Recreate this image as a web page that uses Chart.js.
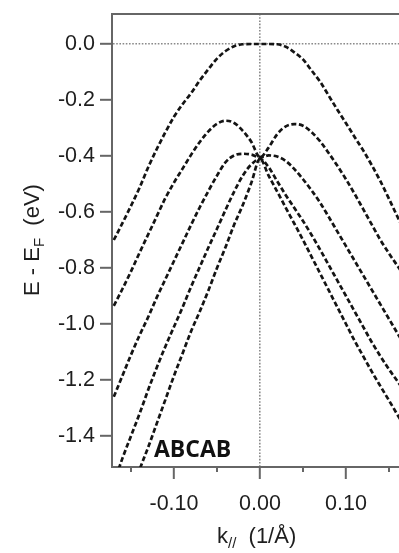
<!DOCTYPE html>
<html>
<head>
<meta charset="utf-8">
<script src="https://cdn.jsdelivr.net/npm/chart.js@4/dist/chart.umd.min.js"></script>
<style>
html,body{margin:0;padding:0;background:#fff;overflow:hidden}
#wrap{position:relative;width:399px;height:553px}
</style>
</head>
<body>
<div id="wrap"><canvas id="c" width="399" height="553"></canvas></div>
<script>
// momentum grid (1/Å)
const kGrid = [-0.17,-0.16,-0.15,-0.14,-0.13,-0.12,-0.11,-0.10,-0.09,-0.08,-0.07,-0.06,-0.05,-0.04,-0.03,-0.02,-0.01,0,
               0.01,0.02,0.03,0.04,0.05,0.06,0.07,0.08,0.09,0.10,0.11,0.12,0.13,0.14,0.15,0.16,0.17];
// band energies E - EF (eV)
const band1 = [-0.70,-0.64,-0.578,-0.513,-0.44,-0.375,-0.315,-0.26,-0.215,-0.175,-0.13,-0.09,-0.052,-0.025,-0.008,-0.001,0,0,
               0,-0.001,-0.01,-0.03,-0.055,-0.095,-0.135,-0.185,-0.235,-0.283,-0.332,-0.38,-0.433,-0.49,-0.553,-0.618,-0.683];
const band2 = [-0.935,-0.875,-0.812,-0.745,-0.68,-0.615,-0.55,-0.495,-0.445,-0.395,-0.35,-0.312,-0.285,-0.274,-0.282,-0.31,-0.35,-0.405,
               -0.37,-0.322,-0.294,-0.286,-0.292,-0.315,-0.348,-0.39,-0.435,-0.483,-0.535,-0.59,-0.645,-0.70,-0.748,-0.793,-0.838];
const band3 = [-1.26,-1.185,-1.11,-1.04,-0.975,-0.905,-0.84,-0.775,-0.71,-0.645,-0.583,-0.525,-0.47,-0.422,-0.398,-0.392,-0.395,-0.405,
               -0.398,-0.402,-0.418,-0.447,-0.483,-0.523,-0.567,-0.618,-0.67,-0.722,-0.774,-0.826,-0.878,-0.93,-0.982,-1.034,-1.086];
const band4 = [-1.57,-1.48,-1.40,-1.32,-1.235,-1.155,-1.08,-1.01,-0.94,-0.866,-0.796,-0.727,-0.66,-0.592,-0.527,-0.47,-0.43,-0.41,
               -0.44,-0.49,-0.54,-0.586,-0.632,-0.682,-0.735,-0.79,-0.845,-0.90,-0.955,-1.01,-1.065,-1.115,-1.162,-1.205,-1.25];
const band5 = [-1.77,-1.69,-1.61,-1.52,-1.44,-1.355,-1.27,-1.185,-1.105,-1.025,-0.955,-0.88,-0.80,-0.725,-0.645,-0.575,-0.495,-0.41,
               -0.47,-0.527,-0.585,-0.642,-0.70,-0.76,-0.82,-0.88,-0.94,-1.00,-1.06,-1.115,-1.17,-1.222,-1.273,-1.325,-1.375];
const bands = [band1, band2, band3, band4, band5];

const xTicks = [-0.15,-0.10,-0.05,0,0.05,0.10,0.15];
const xTickLabels = ['','-0.10','','0.00','','0.10',''];
const yTicks = [0,-0.2,-0.4,-0.6,-0.8,-1.0,-1.2,-1.4];
const yTickLabels = ['0.0','-0.2','-0.4','-0.6','-0.8','-1.0','-1.2','-1.4'];
const sampleLabel = 'ABCAB';

const AXIS = '#666666';
const TXT = '#1e1e1e';
const FONT = 'Liberation Sans';

const extras = {
  id: 'extras',
  afterDraw(chart) {
    const ctx = chart.ctx, a = chart.chartArea, xs = chart.scales.x;
    ctx.save();
    // top frame
    ctx.strokeStyle = AXIS; ctx.lineWidth = 2;
    ctx.beginPath(); ctx.moveTo(a.left - 1, a.top); ctx.lineTo(chart.width, a.top); ctx.stroke();
    // minor ticks
    xTicks.forEach((v, i) => {
      if (xTickLabels[i] !== '') return;
      const px = Math.round(xs.getPixelForValue(v));
      ctx.beginPath(); ctx.moveTo(px, a.bottom); ctx.lineTo(px, a.bottom + 5); ctx.stroke();
    });
    ctx.fillStyle = TXT;
    ctx.textBaseline = 'alphabetic'; ctx.textAlign = 'left';
    // x title: k_// (1/Å)
    const big = '22px "' + FONT + '"', small = '15px "' + FONT + '"';
    ctx.font = big; const wk = ctx.measureText('k').width;
    ctx.font = small; const ws = ctx.measureText('//').width;
    const x0 = 217, yb = 543;
    ctx.font = big; ctx.fillText('k', x0, yb);
    ctx.font = small; ctx.fillText('//', x0 + wk, yb + 5);
    ctx.font = big; ctx.fillText('  (1/Å)', x0 + wk + ws, yb);
    // y title: E - E_F (eV)
    ctx.font = big; const w1 = ctx.measureText('E - E').width; const w3 = ctx.measureText('  (eV)').width;
    ctx.font = small; const w2 = ctx.measureText('F').width;
    const tot = w1 + w2 + w3;
    ctx.translate(39, 240);
    ctx.rotate(-Math.PI / 2);
    const s = -tot / 2;
    ctx.font = big; ctx.fillText('E - E', s, 0);
    ctx.font = small; ctx.fillText('F', s + w1, 5);
    ctx.font = big; ctx.fillText('  (eV)', s + w1 + w2, 0);
    ctx.setTransform(1, 0, 0, 1, 0, 0);
    // sample label
    ctx.font = 'bold 23px "Open Sans"';
    ctx.fillStyle = '#111';
    ctx.fillText(sampleLabel, 154, 457);
    ctx.restore();
  }
};

new Chart(document.getElementById('c'), {
  type: 'line',
  data: {
    datasets: bands.map((b, j) => ({
      label: 'band ' + (j + 1),
      data: kGrid.map((k, i) => ({ x: k, y: b[i] })),
      borderColor: '#141414',
      borderWidth: 2.7,
      borderDash: [5, 2.6],
      pointRadius: 0,
      fill: false,
      cubicInterpolationMode: 'monotone'
    }))
  },
  options: {
    responsive: false,
    animation: false,
    devicePixelRatio: 1,
    layout: { padding: { top: 14, left: 0, right: 0, bottom: 0 } },
    plugins: { legend: { display: false }, tooltip: { enabled: false } },
    scales: {
      x: {
        type: 'linear',
        min: -0.17209, max: 0.16163,
        afterBuildTicks: s => { s.ticks = xTicks.map(v => ({ value: v })); },
        afterFit: s => { s.height = 86; s.paddingLeft = 0; s.paddingRight = 0; },
        ticks: {
          callback: (v, i) => xTickLabels[i],
          font: { family: FONT, size: 21.5, lineHeight: 1.1 },
          color: TXT, padding: 13, maxRotation: 0, autoSkip: false
        },
        grid: {
          drawOnChartArea: true,
          color: c => (c.tick && c.tick.value === 0) ? '#8a8a8a' : 'rgba(0,0,0,0)',
          lineWidth: 1.6,
          tickLength: 12,
          tickWidth: 2,
          tickColor: c => (c.index !== undefined && xTickLabels[c.index] !== '') ? AXIS : 'rgba(0,0,0,0)'
        },
        border: { display: true, color: AXIS, width: 2, dash: [1.6, 1.6] }
      },
      y: {
        type: 'linear',
        min: -1.5107, max: 0.10714,
        afterBuildTicks: s => { s.ticks = yTicks.map(v => ({ value: v })); },
        afterFit: s => { s.width = 112; s.paddingTop = 0; s.paddingBottom = 0; },
        ticks: {
          callback: (v, i) => yTickLabels[i],
          font: { family: FONT, size: 21.5, lineHeight: 1.1 },
          color: TXT, padding: 5, autoSkip: false
        },
        grid: {
          drawOnChartArea: true,
          color: c => (c.tick && c.tick.value === 0) ? '#8a8a8a' : 'rgba(0,0,0,0)',
          lineWidth: 1.6,
          tickLength: 12,
          tickWidth: 2,
          tickColor: AXIS
        },
        border: { display: true, color: AXIS, width: 2, dash: [1.6, 1.6] }
      }
    }
  },
  plugins: [extras]
});
</script>
</body>
</html>
